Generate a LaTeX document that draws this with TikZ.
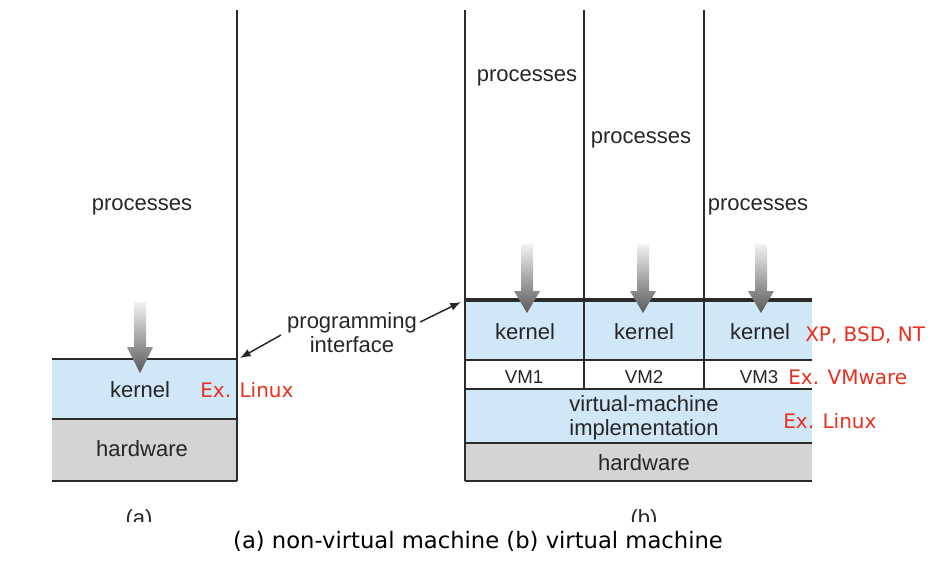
\documentclass[tikz,border=0pt]{standalone}
\usepackage{fontspec}
\setmainfont{Liberation Sans}
\newfontfamily\notefont{DejaVu Sans}
\usetikzlibrary{arrows.meta}
\definecolor{kernblue}{HTML}{CFE7F6}
\definecolor{hwgray}{HTML}{D4D4D4}
\definecolor{notered}{HTML}{E8301F}
\definecolor{rulegray}{HTML}{2B2B2B}
% shaded call arrow: x, top, head start, tip
\newcommand{\callarrow}[4]{%
  \shade[top color=gray!10, bottom color=black!65]
    (#1-6,#2) -- (#1+6,#2) -- (#1+6,#3) -- (#1+13,#3) -- (#1,#4)
    -- (#1-13,#3) -- (#1-6,#3) -- cycle;}

\begin{document}
\begin{tikzpicture}[x=0.75pt,y=-0.75pt,
    lbl/.style={text=black!85, font=\fontsize{16.5}{18}\selectfont, inner sep=0pt},
    small/.style={lbl, font=\fontsize{14}{16}\selectfont},
    note/.style={text=notered, font=\notefont\fontsize{15}{18}\selectfont, anchor=west, inner sep=0pt},
    layer/.style={draw=rulegray, line width=1.1pt},
    api/.style={-{Latex[length=8pt,width=6pt]}, line width=1.1pt, black!85}]
  \useasboundingbox (0,0) rectangle (944,568);

  % (a) non-virtual machine
  \fill[kernblue] (52,359) rectangle (237,419);
  \fill[hwgray] (52,419) rectangle (237,481);
  \draw[layer] (237,10) -- (237,481);
  \draw[layer, line width=2pt] (52,359) -- (237,359);
  \draw[layer] (52,419) -- (237,419);
  \draw[layer] (52,481) -- (237,481);
  \callarrow{140}{302}{347}{373}

  \node[lbl] (procA) at (142,207) {processes};
  \node[lbl] (kernA) at (140,390) {kernel};
  \node[lbl] (hwA) at (142,449) {hardware};
  \node[note] (exA) at (200,390) {Ex. Linux};

  % (b) virtual machine
  \fill[kernblue] (465,300) rectangle (812,360);
  \fill[kernblue] (465,389) rectangle (812,443);
  \fill[hwgray] (465,443) rectangle (812,481);
  \draw[layer, line width=1.5pt] (465,10) -- (465,481);
  \draw[layer] (584,10) -- (584,389);
  \draw[layer] (704,10) -- (704,389);
  \draw[layer, line width=3pt] (465,300) -- (812,300);
  \foreach \yy in {360,389,443,481}
    \draw[layer] (465,\yy) -- (812,\yy);
  \foreach \xx in {527,643,761}
    {\callarrow{\xx}{244}{291}{313}}

  \node[lbl] (procB1) at (527,78) {processes};
  \node[lbl] (procB2) at (641,140) {processes};
  \node[lbl] (procB3) at (758,207) {processes};
  \node[lbl] (kernB1) at (525,332) {kernel};
  \node[lbl] (kernB2) at (644,332) {kernel};
  \node[lbl] (kernB3) at (760,332) {kernel};
  \node[small] (vm1) at (524,377) {VM1};
  \node[small] (vm2) at (644,377) {VM2};
  \node[small] (vm3) at (759,377) {VM3};
  \node[lbl, align=center] (vmm) at (644,418) {virtual-machine\\implementation};
  \node[lbl] (hwB) at (644,463) {hardware};
  \node[note] (exOS) at (805,335) {XP, BSD, NT};
  \node[note] (exVM) at (788,377) {Ex. VMware};
  \node[note] (exHost) at (783,421) {Ex. Linux};

  % programming interface
  \node[lbl, align=center] (progif) at (352,333) {programming\\interface};
  \coordinate (apiA) at (240,358);
  \coordinate (apiB) at (461,302);
  \draw[api] ([shift={(-6,2)}]progif.west) -- (apiA);
  \draw[api] ([shift={(3,-11)}]progif.east) -- (apiB);

  % sub-figure tags, cut off at the bottom
  \begin{scope}
    \clip (0,0) rectangle (944,521);
    \node[lbl] (tagA) at (139,520) {(a)};
    \node[lbl] (tagB) at (644,520) {(b)};
  \end{scope}

  \node[font=\notefont\fontsize{17}{20}\selectfont] (caption) at (478,541)
    {(a) non-virtual machine (b) virtual machine};
\end{tikzpicture}
\end{document}
